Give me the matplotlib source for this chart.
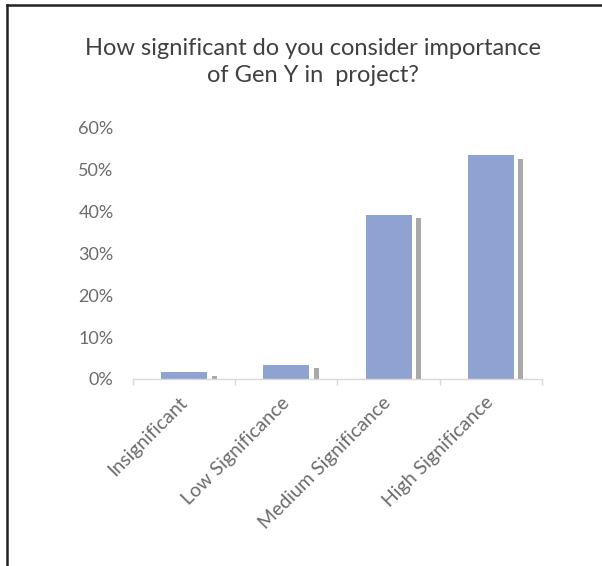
import matplotlib
matplotlib.use("Agg")
import matplotlib.pyplot as plt
from matplotlib.lines import Line2D
from matplotlib.ticker import PercentFormatter

categories = ["Insignificant", "Low Significance", "Medium Significance", "High Significance"]
shares = [0.016, 0.034, 0.393, 0.535]

BAR = "#8EA3D1"
SHADOW = "#a9a9a9"
TXT = "#6b6b6b"
FONT = ["Lato", "DejaVu Sans"]

fig = plt.figure(figsize=(6.02, 5.66), dpi=100)
ax = fig.add_axes([0.221, 0.3304, 0.679, 0.4435])

x = list(range(len(categories)))
# thin drop shadow to the right of each bar
ax.bar([i + 0.295 for i in x], [max(v - 0.008, 0.004) for v in shares],
       width=0.05, color=SHADOW, zorder=1)
ax.bar(x, shares, width=0.45, color=BAR, zorder=2)

ax.set_xlim(-0.5, len(categories) - 0.5)
ax.set_ylim(0, 0.6)
ax.set_yticks([0, 0.1, 0.2, 0.3, 0.4, 0.5, 0.6])
ax.yaxis.set_major_formatter(PercentFormatter(1.0, decimals=0))
ax.set_xticks(x)
ax.set_xticklabels(categories, rotation=45, ha="right", va="center",
                   rotation_mode="anchor", family=FONT, fontsize=14, color=TXT)
ax.set_xticks([i - 0.5 for i in range(len(categories) + 1)], minor=True)
ax.tick_params(axis="x", which="major", length=0, pad=15)
ax.tick_params(axis="x", which="minor", length=4, color="#d9d9d9", width=1)
ax.tick_params(axis="y", length=0, pad=14, labelcolor=TXT, labelsize=13)
for lbl in ax.get_yticklabels():
    lbl.set_family(FONT)

for s in ["top", "right", "left"]:
    ax.spines[s].set_visible(False)
ax.spines["bottom"].set_color("#d9d9d9")
ax.spines["bottom"].set_linewidth(1)

fig.text(0.52, 0.89, "How significant do you consider importance\nof Gen Y in  project?",
         ha="center", va="center", fontsize=17, color="#404040", family=FONT,
         linespacing=1.38)

# frame lines (left and top only)
fig.add_artist(Line2D([0.011, 0.011], [0, 0.991], transform=fig.transFigure,
                      color="#222222", linewidth=1.8))
fig.add_artist(Line2D([0.011, 1.0], [0.991, 0.991], transform=fig.transFigure,
                      color="#222222", linewidth=1.8))

fig.savefig("out.png", dpi=100, facecolor="white")
